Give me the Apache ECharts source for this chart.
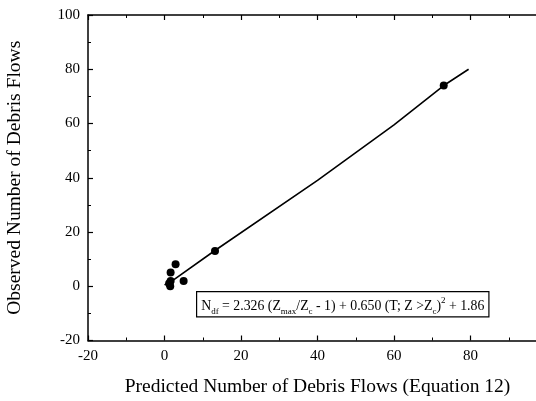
<!DOCTYPE html>
<html>
<head>
<meta charset="utf-8">
<script src="https://cdn.jsdelivr.net/npm/echarts@6/dist/echarts.min.js"></script>
<style>
  html, body { margin: 0; padding: 0; background: #fff; }
  #main { width: 536px; height: 401px; }
</style>
</head>
<body>
<div id="main"></div>
<script>
// observed vs predicted debris flows
var predicted = [73, 13.2, 2.9, 1.6, 1.6, 5.0, 1.5, 1.2];
var observed  = [74, 13.0, 8.1, 5.1, 1.9, 1.9, 0.0, 1.0];

// fitted line
var fitX = [0, 2, 13, 40, 60, 73, 79.5];
var fitY = [0.5, 2, 13, 39, 59.5, 74, 80];

var xTicks = [-20, 0, 20, 40, 60, 80];
var yTicks = [-20, 0, 20, 40, 60, 80, 100];

var serif = 'Liberation Serif';

var pts = predicted.map(function (x, i) { return [x, observed[i]]; });
var fit = fitX.map(function (x, i) { return [x, fitY[i]]; });

var myChart = echarts.init(document.getElementById('main'));

var axisCommon = {
    axisLine: { onZero: false, lineStyle: { color: '#000', width: 1.5 } },
    axisTick: { inside: true, length: 5, lineStyle: { color: '#000', width: 1.2 } },
    minorTick: { show: true, splitNumber: 2, length: 3, lineStyle: { color: '#000', width: 1 } },
    splitLine: { show: false }
};

var option = {
    animation: false,
    backgroundColor: '#fff',
    grid: { left: 88, top: 15, width: 459, height: 325.5, outerBoundsMode: 'none', containLabel: false },
    xAxis: [
        Object.assign({
            type: 'value', min: -20, max: 100, interval: 20,
            name: 'Predicted Number of Debris Flows (Equation 12)',
            nameLocation: 'middle', nameGap: 36,
            nameTextStyle: { fontFamily: serif, fontSize: 19.5, color: '#000' },
            axisLabel: {
                fontFamily: serif, fontSize: 15, color: '#000', margin: 8,
                formatter: function (v) { return xTicks.indexOf(v) >= 0 ? String(v) : ''; }
            }
        }, axisCommon),
        Object.assign({
            type: 'value', min: -20, max: 100, interval: 20, position: 'top',
            axisLabel: { show: false }
        }, axisCommon)
    ],
    yAxis: [
        Object.assign({
            type: 'value', min: -20, max: 100, interval: 20,
            name: 'Observed Number of Debris Flows',
            nameLocation: 'middle', nameGap: 63,
            nameTextStyle: { fontFamily: serif, fontSize: 19.5, color: '#000' },
            axisLabel: {
                fontFamily: serif, fontSize: 15, color: '#000', margin: 8,
                formatter: function (v) { return yTicks.indexOf(v) >= 0 ? String(v) : ''; }
            }
        }, axisCommon)
    ],
    series: [
        {
            type: 'line',
            data: fit,
            symbol: 'none',
            lineStyle: { color: '#000', width: 1.6 },
            z: 2
        },
        {
            type: 'scatter',
            data: pts,
            symbol: 'circle',
            symbolSize: 8,
            itemStyle: { color: '#000', opacity: 1 },
            z: 3
        }
    ],
    graphic: [{
        type: 'text',
        left: 196,
        top: 291,
        style: {
            text: '{n|N}{s|df}{n| = 2.326 (Z}{s|max}{n|/Z}{s|c}{n| - 1) + 0.650 (T; Z >Z}{s|c}{n|)}{p|2}{n| + 1.86}',
            fill: '#000',
            borderColor: '#000',
            borderWidth: 1.2,
            padding: [4, 4, 3, 4],
            backgroundColor: '#fff',
            rich: {
                n: { fontFamily: serif, fontSize: 13.8, color: '#000', verticalAlign: 'bottom', lineHeight: 17 },
                s: { fontFamily: serif, fontSize: 9, color: '#000', verticalAlign: 'bottom', lineHeight: 12, padding: [0, 0, -3, 0] },
                p: { fontFamily: serif, fontSize: 9, color: '#000', verticalAlign: 'top', lineHeight: 17 }
            }
        }
    }]
};

myChart.setOption(option);
</script>
</body>
</html>
